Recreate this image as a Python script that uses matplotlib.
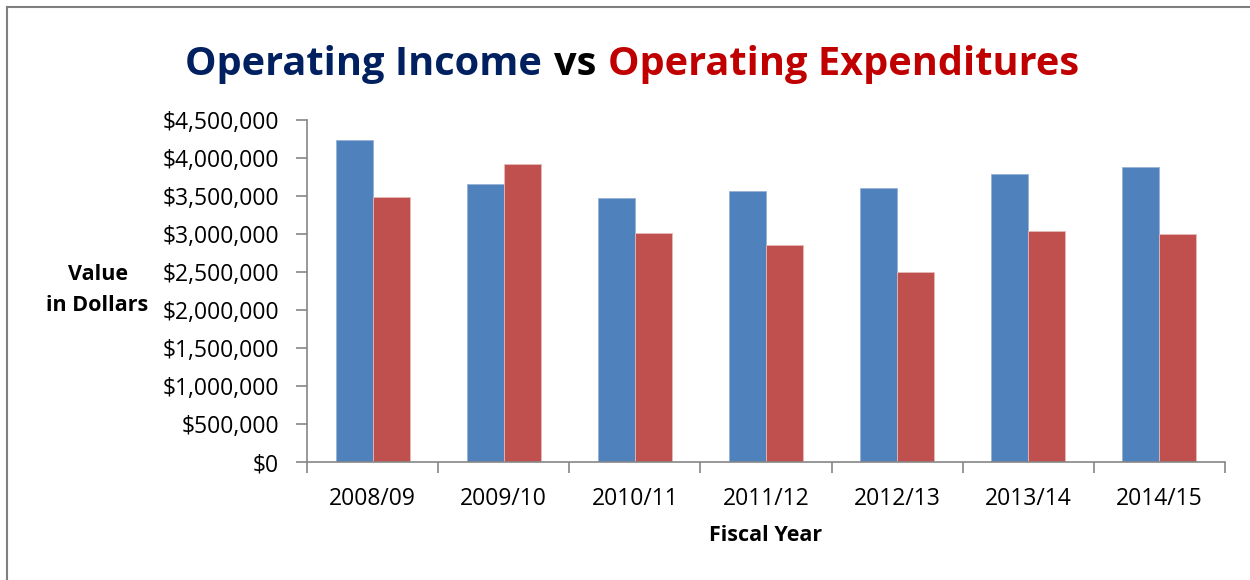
import matplotlib.pyplot as plt
import numpy as np
from matplotlib.ticker import FuncFormatter

# Data ==============================================
years = ["2008/09", "2009/10", "2010/11", "2011/12", "2012/13", "2013/14", "2014/15"]
income = [4240000, 3660000, 3470000, 3560000, 3600000, 3790000, 3880000]
expenditures = [3490000, 3915000, 3010000, 2860000, 2505000, 3035000, 3000000]

plt.rcParams['font.family'] = ['Open Sans', 'DejaVu Sans']

fig = plt.figure(figsize=(12.5, 5.8), dpi=100)
ax = fig.add_axes([0.2456, 0.2034, 0.7344, 0.5897])

x = np.arange(len(years))
w = 0.282
ax.bar(x - w / 2, income, w, color='#4F81BD', edgecolor='#95B3D7', linewidth=0.6)
ax.bar(x + w / 2, expenditures, w, color='#C0504D', edgecolor='#E6B9B8', linewidth=0.6)

ax.set_xlim(-0.5, len(years) - 0.5)
ax.set_ylim(0, 4500000)
ax.set_yticks(np.arange(0, 4500001, 500000))
ax.yaxis.set_major_formatter(FuncFormatter(lambda v, p: "${:,.0f}".format(v)))

ax.set_xticks(x)
ax.set_xticklabels(years)
ax.set_xticks(np.arange(-0.5, len(years)), minor=True)
ax.tick_params(axis='x', which='major', length=0, pad=18, labelsize=16.5)
ax.tick_params(axis='x', which='minor', length=8, color='#868686', width=1.2)
ax.tick_params(axis='y', length=8, color='#868686', width=1.2, labelsize=16.5, pad=12)

for s in ['top', 'right']:
    ax.spines[s].set_visible(False)
for s in ['left', 'bottom']:
    ax.spines[s].set_color('#868686')
    ax.spines[s].set_linewidth(1.2)

ax.set_xlabel("Fiscal Year", fontsize=15.5, fontweight='bold', labelpad=10)
fig.text(0.078, 0.50, "Value\nin Dollars", ha='center', va='center',
         fontsize=15.5, fontweight='bold', linespacing=1.6)

# Title in three colours
title_y = 0.888
t1 = fig.text(0.148, title_y, "Operating Income", color='#002060', fontsize=28.6,
              fontweight='bold', va='center', ha='left')
fig.canvas.draw()
r = fig.canvas.get_renderer()
bb = t1.get_window_extent(r)
x2 = (bb.x1 + 12) / fig.bbox.width
t2 = fig.text(x2, title_y, "vs", color='black', fontsize=28.6, fontweight='bold', va='center', ha='left')
bb = t2.get_window_extent(r)
x3 = (bb.x1 + 12) / fig.bbox.width
fig.text(x3, title_y, "Operating Expenditures", color='#C00000', fontsize=28.6,
         fontweight='bold', va='center', ha='left')

# Border round the chart
fig.add_artist(plt.Line2D([7 / 1250, 1.0], [1 - 7 / 580, 1 - 7 / 580], color='#7F7F7F', linewidth=1.5))
fig.add_artist(plt.Line2D([7 / 1250, 7 / 1250], [0, 1 - 7 / 580], color='#7F7F7F', linewidth=1.5))

fig.savefig("out.png", dpi=100)
